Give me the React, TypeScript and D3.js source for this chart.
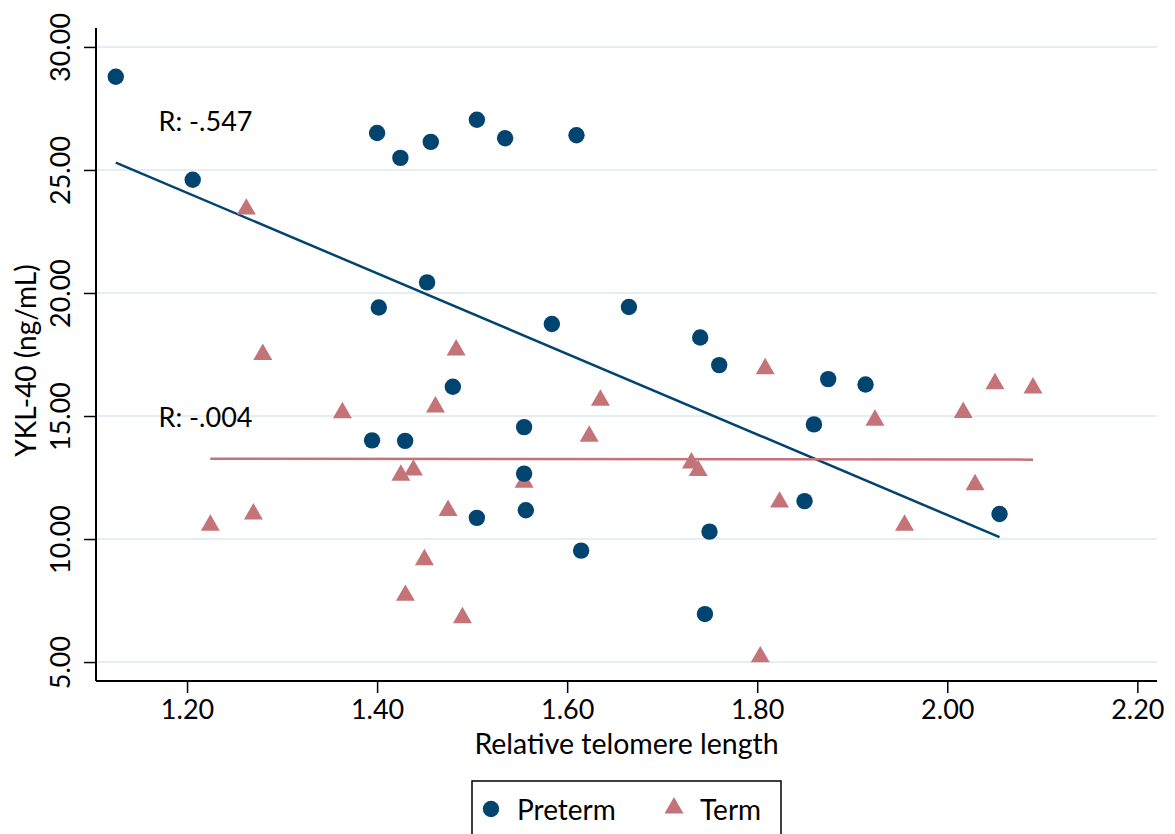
import React, { useEffect, useRef } from "react";
import * as d3 from "d3";

// Preterm group (circles) - relative telomere length vs YKL-40
const pretermX = [1.125, 1.206, 1.4, 1.4245, 1.4565, 1.505, 1.5347, 1.6098, 1.4526, 1.4018, 1.5839, 1.665, 1.74, 1.76, 1.8747, 1.914, 1.4797, 1.3947, 1.4295, 1.5547, 1.8597, 1.5547, 1.505, 1.5565, 1.6147, 1.7498, 1.745, 1.8498, 2.055];
const pretermY = [28.79, 24.6, 26.5, 25.49, 26.14, 27.04, 26.29, 26.41, 20.43, 19.41, 18.74, 19.43, 18.19, 17.07, 16.5, 16.28, 16.19, 14.01, 13.99, 14.55, 14.66, 12.66, 10.86, 11.17, 9.53, 10.3, 6.95, 11.54, 11.02];

// Term group (triangles)
const termX = [1.2624, 1.2797, 1.4832, 1.8084, 1.3635, 1.4614, 1.635, 1.6232, 1.2245, 1.2698, 1.425, 1.4382, 1.4747, 1.4498, 1.4298, 1.4898, 1.5547, 1.7308, 1.7379, 1.8235, 1.8032, 1.9239, 2.0168, 2.0502, 2.0902, 2.0292, 1.955];
const termY = [23.41, 17.5, 17.68, 16.92, 15.13, 15.37, 15.64, 14.18, 10.56, 11.02, 12.59, 12.8, 11.16, 9.16, 7.71, 6.8, 12.31, 13.09, 12.78, 11.5, 5.21, 14.83, 15.14, 16.31, 16.14, 12.21, 10.56];

const xTicks = [1.2, 1.4, 1.6, 1.8, 2.0, 2.2];
const yTicks = [5, 10, 15, 20, 25, 30];

// correlation labels, placed in data units
const rLabels = ["R: -.547", "R: -.004"];
const rLabelX = [1.17, 1.17];
const rLabelY = [26.95, 14.95];

const legendLabels = ["Preterm", "Term"];

const NAVY = "#00446f";
const ROSE = "#c47478";
const FONT = "Lato, 'Open Sans', sans-serif";

// least squares fit over the group's own x range
function fitLine(xs: number[], ys: number[]) {
  const mx = d3.mean(xs) as number;
  const my = d3.mean(ys) as number;
  let sxy = 0, sxx = 0;
  xs.forEach((x, i) => {
    sxy += (x - mx) * (ys[i] - my);
    sxx += (x - mx) * (x - mx);
  });
  const b = sxy / sxx;
  const a = my - b * mx;
  const [x0, x1] = d3.extent(xs) as [number, number];
  return [[x0, a + b * x0], [x1, a + b * x1]];
}

export default function App() {
  const ref = useRef<SVGSVGElement>(null);

  useEffect(() => {
    const svg = d3.select(ref.current);
    svg.selectAll("*").remove();

    const left = 96, right = 1157, top = 28, bottom = 681;

    const x = d3.scaleLinear().domain([1.1042, 2.2207]).range([left, right]);
    const y = d3.scaleLinear().domain([4.23, 30.77]).range([bottom, top]);

    // grid lines
    svg.append("g")
      .selectAll("line")
      .data(yTicks)
      .join("line")
      .attr("x1", left)
      .attr("x2", right)
      .attr("y1", d => y(d))
      .attr("y2", d => y(d))
      .attr("stroke", "#e5eff1")
      .attr("stroke-width", 2);

    // x axis
    const xg = svg.append("g")
      .attr("transform", `translate(0,${bottom})`)
      .call(d3.axisBottom(x).tickValues(xTicks).tickFormat(d3.format(".2f")).tickSize(12).tickSizeOuter(0));
    xg.select(".domain").attr("stroke", "#000").attr("stroke-width", 2).attr("d", `M${left},0H${right}`);
    xg.selectAll(".tick line").attr("stroke", "#000").attr("stroke-width", 1.5);
    xg.selectAll(".tick text")
      .attr("font-family", FONT)
      .attr("font-size", 27)
      .attr("fill", "#000")
      .attr("y", 19)
      .attr("dy", "0.71em");

    // y axis, labels turned sideways
    const yg = svg.append("g")
      .attr("transform", `translate(${left},0)`)
      .call(d3.axisLeft(y).tickValues(yTicks).tickFormat(d3.format(".2f")).tickSize(12).tickSizeOuter(0));
    yg.select(".domain").attr("stroke", "#000").attr("stroke-width", 2).attr("d", `M0,${top}V${bottom}`);
    yg.selectAll(".tick line").attr("stroke", "#000").attr("stroke-width", 1.5);
    yg.selectAll(".tick text")
      .attr("font-family", FONT)
      .attr("font-size", 27)
      .attr("fill", "#000")
      .attr("x", null)
      .attr("dy", null)
      .attr("text-anchor", "middle")
      .attr("transform", "translate(-26,0) rotate(-90)");

    // axis titles
    svg.append("text")
      .attr("x", (left + right) / 2)
      .attr("y", 754)
      .attr("text-anchor", "middle")
      .attr("font-family", FONT)
      .attr("font-size", 28.5)
      .text("Relative telomere length");

    svg.append("text")
      .attr("transform", `translate(36,${(top + bottom) / 2 + 6}) rotate(-90)`)
      .attr("text-anchor", "middle")
      .attr("font-family", FONT)
      .attr("font-size", 28)
      .text("YKL-40 (ng/mL)");

    // fit lines
    const line = d3.line<number[]>().x(d => x(d[0])).y(d => y(d[1]));
    svg.append("path")
      .attr("d", line(fitLine(pretermX, pretermY)))
      .attr("stroke", NAVY)
      .attr("stroke-width", 2.5)
      .attr("fill", "none");
    svg.append("path")
      .attr("d", line(fitLine(termX, termY)))
      .attr("stroke", ROSE)
      .attr("stroke-width", 2.5)
      .attr("fill", "none");

    // R labels
    svg.append("g")
      .selectAll("text")
      .data(rLabels)
      .join("text")
      .attr("x", (d, i) => x(rLabelX[i]))
      .attr("y", (d, i) => y(rLabelY[i]))
      .attr("dy", "0.35em")
      .attr("font-family", FONT)
      .attr("font-size", 27)
      .text(d => d);

    // points
    const tri = d3.symbol().type(d3.symbolTriangle).size(156);
    svg.append("g")
      .selectAll("path")
      .data(termX)
      .join("path")
      .attr("d", tri)
      .attr("transform", (d, i) => `translate(${x(d)},${y(termY[i])})`)
      .attr("fill", ROSE);

    svg.append("g")
      .selectAll("circle")
      .data(pretermX)
      .join("circle")
      .attr("cx", d => x(d))
      .attr("cy", (d, i) => y(pretermY[i]))
      .attr("r", 8.2)
      .attr("fill", NAVY);

    // legend
    const lg = svg.append("g");
    lg.append("rect")
      .attr("x", 472)
      .attr("y", 781)
      .attr("width", 309)
      .attr("height", 70)
      .attr("fill", "#fff")
      .attr("stroke", "#000")
      .attr("stroke-width", 1.5);
    lg.append("circle").attr("cx", 491).attr("cy", 809).attr("r", 8.2).attr("fill", NAVY);
    lg.append("path").attr("d", tri).attr("transform", "translate(674,808)").attr("fill", ROSE);
    lg.selectAll("text.lab")
      .data(legendLabels)
      .join("text")
      .attr("class", "lab")
      .attr("x", (d, i) => (i === 0 ? 517 : 700))
      .attr("y", 820)
      .attr("font-family", FONT)
      .attr("font-size", 28)
      .text(d => d);
  }, []);

  return (
    <svg
      ref={ref}
      width={1175}
      height={834}
      style={{ position: "absolute", left: 0, top: 0, background: "#fff" }}
    />
  );
}
